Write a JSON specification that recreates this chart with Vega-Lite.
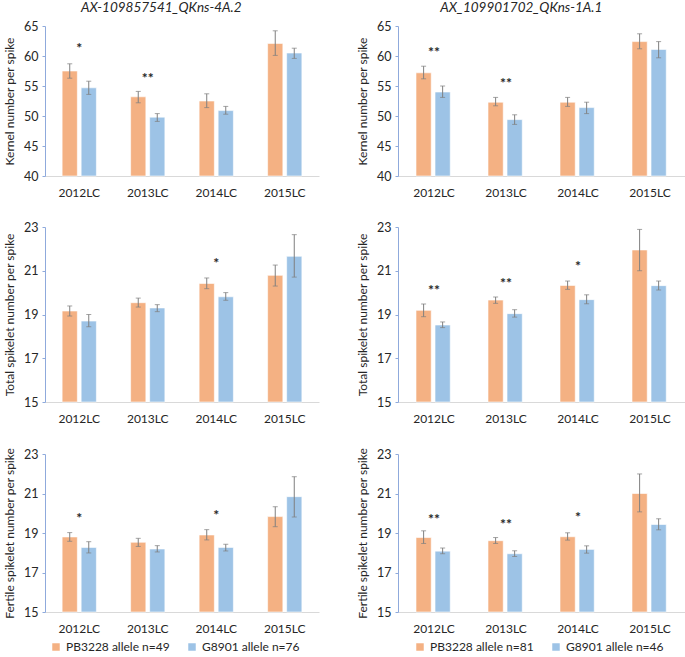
{
  "$schema": "https://vega.github.io/schema/vega-lite/v6.json",
  "padding": {"left": 3, "top": 0, "right": 0, "bottom": 0},
  "background": "white",
  "config": {
    "font": "Lato",
    "view": {"stroke": null},
    "axisY": {"domainColor": "#8FAADC", "tickColor": "#8FAADC", "tickSize": 3, "grid": false, "labelFontSize": 12.5, "labelColor": "#262626", "titleFontSize": 12, "titleFontWeight": "normal", "titleColor": "#262626", "labelPadding": 4, "titlePadding": 7},
    "axisX": {"domainColor": "#D9D9D9", "ticks": false, "labelAngle": 0, "labelFontSize": 12, "labelColor": "#262626", "labelPadding": 11},
    "title": {"fontSize": 13.5, "fontStyle": "italic", "fontWeight": "normal", "color": "#262626", "offset": 6, "frame": "bounds", "dx": 0},
    "legend": {"labelFontSize": 12, "labelColor": "#262626", "symbolType": "square", "symbolSize": 56, "symbolStrokeWidth": 0, "columnPadding": 16},
    "concat": {"spacing": 37}
  },
  "datasets": {
    "bars": [
      {"p": "K1", "yr": "2012LC", "g": 1, "a": "PB3228 allele n=49", "v": 57.5, "lo": 56.3, "hi": 58.7},
      {"p": "K1", "yr": "2012LC", "g": 2, "a": "G8901 allele n=76", "v": 54.7, "lo": 53.6, "hi": 55.8},
      {"p": "K1", "yr": "2013LC", "g": 1, "a": "PB3228 allele n=49", "v": 53.2, "lo": 52.2, "hi": 54.1},
      {"p": "K1", "yr": "2013LC", "g": 2, "a": "G8901 allele n=76", "v": 49.8, "lo": 49.1, "hi": 50.4},
      {"p": "K1", "yr": "2014LC", "g": 1, "a": "PB3228 allele n=49", "v": 52.5, "lo": 51.4, "hi": 53.7},
      {"p": "K1", "yr": "2014LC", "g": 2, "a": "G8901 allele n=76", "v": 50.9, "lo": 50.3, "hi": 51.6},
      {"p": "K1", "yr": "2015LC", "g": 1, "a": "PB3228 allele n=49", "v": 62.1, "lo": 60.1, "hi": 64.2},
      {"p": "K1", "yr": "2015LC", "g": 2, "a": "G8901 allele n=76", "v": 60.5, "lo": 59.6, "hi": 61.3},
      {"p": "T1", "yr": "2012LC", "g": 1, "a": "PB3228 allele n=49", "v": 19.16, "lo": 18.93, "hi": 19.39},
      {"p": "T1", "yr": "2012LC", "g": 2, "a": "G8901 allele n=76", "v": 18.7, "lo": 18.44, "hi": 19.0},
      {"p": "T1", "yr": "2013LC", "g": 1, "a": "PB3228 allele n=49", "v": 19.54, "lo": 19.34, "hi": 19.75},
      {"p": "T1", "yr": "2013LC", "g": 2, "a": "G8901 allele n=76", "v": 19.3, "lo": 19.13, "hi": 19.45},
      {"p": "T1", "yr": "2014LC", "g": 1, "a": "PB3228 allele n=49", "v": 20.42, "lo": 20.18, "hi": 20.67},
      {"p": "T1", "yr": "2014LC", "g": 2, "a": "G8901 allele n=76", "v": 19.81, "lo": 19.65, "hi": 20.0},
      {"p": "T1", "yr": "2015LC", "g": 1, "a": "PB3228 allele n=49", "v": 20.79, "lo": 20.3, "hi": 21.26},
      {"p": "T1", "yr": "2015LC", "g": 2, "a": "G8901 allele n=76", "v": 21.66, "lo": 20.71, "hi": 22.65},
      {"p": "F1", "yr": "2012LC", "g": 1, "a": "PB3228 allele n=49", "v": 18.8, "lo": 18.58, "hi": 19.02},
      {"p": "F1", "yr": "2012LC", "g": 2, "a": "G8901 allele n=76", "v": 18.27, "lo": 17.99, "hi": 18.56},
      {"p": "F1", "yr": "2013LC", "g": 1, "a": "PB3228 allele n=49", "v": 18.53, "lo": 18.32, "hi": 18.73},
      {"p": "F1", "yr": "2013LC", "g": 2, "a": "G8901 allele n=76", "v": 18.19, "lo": 18.04, "hi": 18.36},
      {"p": "F1", "yr": "2014LC", "g": 1, "a": "PB3228 allele n=49", "v": 18.9, "lo": 18.65, "hi": 19.17},
      {"p": "F1", "yr": "2014LC", "g": 2, "a": "G8901 allele n=76", "v": 18.27, "lo": 18.09, "hi": 18.43},
      {"p": "F1", "yr": "2015LC", "g": 1, "a": "PB3228 allele n=49", "v": 19.83, "lo": 19.32, "hi": 20.33},
      {"p": "F1", "yr": "2015LC", "g": 2, "a": "G8901 allele n=76", "v": 20.84, "lo": 19.81, "hi": 21.85},
      {"p": "K2", "yr": "2012LC", "g": 1, "a": "PB3228 allele n=81", "v": 57.2, "lo": 56.2, "hi": 58.3},
      {"p": "K2", "yr": "2012LC", "g": 2, "a": "G8901 allele n=46", "v": 54.0, "lo": 53.1, "hi": 55.0},
      {"p": "K2", "yr": "2013LC", "g": 1, "a": "PB3228 allele n=81", "v": 52.3, "lo": 51.7, "hi": 53.1},
      {"p": "K2", "yr": "2013LC", "g": 2, "a": "G8901 allele n=46", "v": 49.4, "lo": 48.6, "hi": 50.2},
      {"p": "K2", "yr": "2014LC", "g": 1, "a": "PB3228 allele n=81", "v": 52.3, "lo": 51.6, "hi": 53.1},
      {"p": "K2", "yr": "2014LC", "g": 2, "a": "G8901 allele n=46", "v": 51.4, "lo": 50.4, "hi": 52.3},
      {"p": "K2", "yr": "2015LC", "g": 1, "a": "PB3228 allele n=81", "v": 62.4, "lo": 61.2, "hi": 63.7},
      {"p": "K2", "yr": "2015LC", "g": 2, "a": "G8901 allele n=46", "v": 61.1, "lo": 59.7, "hi": 62.4},
      {"p": "T2", "yr": "2012LC", "g": 1, "a": "PB3228 allele n=81", "v": 19.19, "lo": 18.9, "hi": 19.48},
      {"p": "T2", "yr": "2012LC", "g": 2, "a": "G8901 allele n=46", "v": 18.52, "lo": 18.4, "hi": 18.66},
      {"p": "T2", "yr": "2013LC", "g": 1, "a": "PB3228 allele n=81", "v": 19.66, "lo": 19.51, "hi": 19.8},
      {"p": "T2", "yr": "2013LC", "g": 2, "a": "G8901 allele n=46", "v": 19.04, "lo": 18.88, "hi": 19.22},
      {"p": "T2", "yr": "2014LC", "g": 1, "a": "PB3228 allele n=81", "v": 20.33, "lo": 20.15, "hi": 20.53},
      {"p": "T2", "yr": "2014LC", "g": 2, "a": "G8901 allele n=46", "v": 19.68, "lo": 19.49, "hi": 19.9},
      {"p": "T2", "yr": "2015LC", "g": 1, "a": "PB3228 allele n=81", "v": 21.95, "lo": 21.0, "hi": 22.89},
      {"p": "T2", "yr": "2015LC", "g": 2, "a": "G8901 allele n=46", "v": 20.32, "lo": 20.12, "hi": 20.53},
      {"p": "F2", "yr": "2012LC", "g": 1, "a": "PB3228 allele n=81", "v": 18.77, "lo": 18.47, "hi": 19.11},
      {"p": "F2", "yr": "2012LC", "g": 2, "a": "G8901 allele n=46", "v": 18.08, "lo": 17.95, "hi": 18.24},
      {"p": "F2", "yr": "2013LC", "g": 1, "a": "PB3228 allele n=81", "v": 18.61, "lo": 18.47, "hi": 18.77},
      {"p": "F2", "yr": "2013LC", "g": 2, "a": "G8901 allele n=46", "v": 17.95, "lo": 17.81, "hi": 18.1},
      {"p": "F2", "yr": "2014LC", "g": 1, "a": "PB3228 allele n=81", "v": 18.81, "lo": 18.64, "hi": 19.01},
      {"p": "F2", "yr": "2014LC", "g": 2, "a": "G8901 allele n=46", "v": 18.17, "lo": 17.98, "hi": 18.35},
      {"p": "F2", "yr": "2015LC", "g": 1, "a": "PB3228 allele n=81", "v": 21.0, "lo": 20.07, "hi": 21.99},
      {"p": "F2", "yr": "2015LC", "g": 2, "a": "G8901 allele n=46", "v": 19.43, "lo": 19.16, "hi": 19.72}
    ],
    "stars": [
      {"p": "K1", "yr": "2012LC", "s": "*", "y": 61.6},
      {"p": "K1", "yr": "2013LC", "s": "**", "y": 56.7},
      {"p": "T1", "yr": "2014LC", "s": "*", "y": 21.45},
      {"p": "F1", "yr": "2012LC", "s": "*", "y": 19.85},
      {"p": "F1", "yr": "2014LC", "s": "*", "y": 20.0},
      {"p": "K2", "yr": "2012LC", "s": "**", "y": 61.0},
      {"p": "K2", "yr": "2013LC", "s": "**", "y": 55.8},
      {"p": "T2", "yr": "2012LC", "s": "**", "y": 20.2},
      {"p": "T2", "yr": "2013LC", "s": "**", "y": 20.55},
      {"p": "T2", "yr": "2014LC", "s": "*", "y": 21.3},
      {"p": "F2", "yr": "2012LC", "s": "**", "y": 19.8},
      {"p": "F2", "yr": "2013LC", "s": "**", "y": 19.55},
      {"p": "F2", "yr": "2014LC", "s": "*", "y": 19.92}
    ]
  },
  "resolve": {"scale": {"color": "independent"}, "legend": {"color": "independent"}},
  "hconcat": [
    {
      "spacing": 23,
      "vconcat": [
        {
          "width": 274, "height": 150,
          "title": {"text": "AX-109857541_QKns-4A.2"},
          "encoding": {
            "x": {"field": "yr", "type": "nominal", "title": null, "scale": {"paddingInner": 0.5, "paddingOuter": 0.25}},
            "y": {"type": "quantitative", "scale": {"domain": [40, 65], "zero": false, "nice": false}, "axis": {"values": [40, 45, 50, 55, 60, 65]}, "title": "Kernel number per spike"}
          },
          "layer": [
            {"data": {"name": "bars"}, "transform": [{"filter": "datum.p === 'K1'"}], "mark": {"type": "bar", "stroke": "white", "strokeWidth": 0.6},
             "encoding": {"xOffset": {"field": "g", "type": "nominal", "scale": {"paddingInner": 0.2}}, "y": {"field": "v"}, "y2": {"datum": 40},
               "color": {"field": "a", "type": "nominal", "title": null, "scale": {"domain": ["PB3228 allele n=49", "G8901 allele n=76"], "range": ["#F4B183", "#9DC3E6"]}, "legend": {"orient": "bottom", "direction": "horizontal", "padding": 5, "offset": 2}}}},
            {"data": {"name": "bars"}, "transform": [{"filter": "datum.p === 'K1'"}], "mark": {"type": "rule", "color": "#7F7F7F", "strokeWidth": 1},
             "encoding": {"xOffset": {"field": "g", "type": "nominal", "scale": {"paddingInner": 0.2}}, "y": {"field": "lo"}, "y2": {"field": "hi"}}},
            {"data": {"name": "bars"}, "transform": [{"filter": "datum.p === 'K1'"}], "mark": {"type": "tick", "color": "#7F7F7F", "thickness": 1, "size": 5},
             "encoding": {"xOffset": {"field": "g", "type": "nominal", "scale": {"paddingInner": 0.2}}, "y": {"field": "lo"}}},
            {"data": {"name": "bars"}, "transform": [{"filter": "datum.p === 'K1'"}], "mark": {"type": "tick", "color": "#7F7F7F", "thickness": 1, "size": 5},
             "encoding": {"xOffset": {"field": "g", "type": "nominal", "scale": {"paddingInner": 0.2}}, "y": {"field": "hi"}}},
            {"data": {"name": "stars"}, "transform": [{"filter": "datum.p === 'K1'"}], "mark": {"type": "text", "fontSize": 14, "fontWeight": "bold", "color": "#262626", "baseline": "middle", "dy": 3},
             "encoding": {"y": {"field": "y"}, "text": {"field": "s"}}}
          ]
        },
        {
          "width": 274, "height": 175,
          "encoding": {
            "x": {"field": "yr", "type": "nominal", "title": null, "scale": {"paddingInner": 0.5, "paddingOuter": 0.25}},
            "y": {"type": "quantitative", "scale": {"domain": [15, 23], "zero": false, "nice": false}, "axis": {"values": [15, 17, 19, 21, 23]}, "title": "Total spikelet number per spike"}
          },
          "layer": [
            {"data": {"name": "bars"}, "transform": [{"filter": "datum.p === 'T1'"}], "mark": {"type": "bar", "stroke": "white", "strokeWidth": 0.6},
             "encoding": {"xOffset": {"field": "g", "type": "nominal", "scale": {"paddingInner": 0.2}}, "y": {"field": "v"}, "y2": {"datum": 15},
               "color": {"field": "a", "type": "nominal", "title": null, "scale": {"domain": ["PB3228 allele n=49", "G8901 allele n=76"], "range": ["#F4B183", "#9DC3E6"]}, "legend": {"orient": "bottom", "direction": "horizontal", "padding": 5, "offset": 2}}}},
            {"data": {"name": "bars"}, "transform": [{"filter": "datum.p === 'T1'"}], "mark": {"type": "rule", "color": "#7F7F7F", "strokeWidth": 1},
             "encoding": {"xOffset": {"field": "g", "type": "nominal", "scale": {"paddingInner": 0.2}}, "y": {"field": "lo"}, "y2": {"field": "hi"}}},
            {"data": {"name": "bars"}, "transform": [{"filter": "datum.p === 'T1'"}], "mark": {"type": "tick", "color": "#7F7F7F", "thickness": 1, "size": 5},
             "encoding": {"xOffset": {"field": "g", "type": "nominal", "scale": {"paddingInner": 0.2}}, "y": {"field": "lo"}}},
            {"data": {"name": "bars"}, "transform": [{"filter": "datum.p === 'T1'"}], "mark": {"type": "tick", "color": "#7F7F7F", "thickness": 1, "size": 5},
             "encoding": {"xOffset": {"field": "g", "type": "nominal", "scale": {"paddingInner": 0.2}}, "y": {"field": "hi"}}},
            {"data": {"name": "stars"}, "transform": [{"filter": "datum.p === 'T1'"}], "mark": {"type": "text", "fontSize": 14, "fontWeight": "bold", "color": "#262626", "baseline": "middle", "dy": 3},
             "encoding": {"y": {"field": "y"}, "text": {"field": "s"}}}
          ]
        },
        {
          "width": 274, "height": 158,
          "encoding": {
            "x": {"field": "yr", "type": "nominal", "title": null, "scale": {"paddingInner": 0.5, "paddingOuter": 0.25}},
            "y": {"type": "quantitative", "scale": {"domain": [15, 23], "zero": false, "nice": false}, "axis": {"values": [15, 17, 19, 21, 23]}, "title": "Fertile spikelet number per spike"}
          },
          "layer": [
            {"data": {"name": "bars"}, "transform": [{"filter": "datum.p === 'F1'"}], "mark": {"type": "bar", "stroke": "white", "strokeWidth": 0.6},
             "encoding": {"xOffset": {"field": "g", "type": "nominal", "scale": {"paddingInner": 0.2}}, "y": {"field": "v"}, "y2": {"datum": 15},
               "color": {"field": "a", "type": "nominal", "title": null, "scale": {"domain": ["PB3228 allele n=49", "G8901 allele n=76"], "range": ["#F4B183", "#9DC3E6"]}, "legend": {"orient": "bottom", "direction": "horizontal", "padding": 5, "offset": 2}}}},
            {"data": {"name": "bars"}, "transform": [{"filter": "datum.p === 'F1'"}], "mark": {"type": "rule", "color": "#7F7F7F", "strokeWidth": 1},
             "encoding": {"xOffset": {"field": "g", "type": "nominal", "scale": {"paddingInner": 0.2}}, "y": {"field": "lo"}, "y2": {"field": "hi"}}},
            {"data": {"name": "bars"}, "transform": [{"filter": "datum.p === 'F1'"}], "mark": {"type": "tick", "color": "#7F7F7F", "thickness": 1, "size": 5},
             "encoding": {"xOffset": {"field": "g", "type": "nominal", "scale": {"paddingInner": 0.2}}, "y": {"field": "lo"}}},
            {"data": {"name": "bars"}, "transform": [{"filter": "datum.p === 'F1'"}], "mark": {"type": "tick", "color": "#7F7F7F", "thickness": 1, "size": 5},
             "encoding": {"xOffset": {"field": "g", "type": "nominal", "scale": {"paddingInner": 0.2}}, "y": {"field": "hi"}}},
            {"data": {"name": "stars"}, "transform": [{"filter": "datum.p === 'F1'"}], "mark": {"type": "text", "fontSize": 14, "fontWeight": "bold", "color": "#262626", "baseline": "middle", "dy": 3},
             "encoding": {"y": {"field": "y"}, "text": {"field": "s"}}}
          ]
        }
      ]
    },
    {
      "spacing": 23,
      "vconcat": [
        {
          "width": 288, "height": 150,
          "title": {"text": "AX_109901702_QKns-1A.1"},
          "encoding": {
            "x": {"field": "yr", "type": "nominal", "title": null, "scale": {"paddingInner": 0.5, "paddingOuter": 0.25}},
            "y": {"type": "quantitative", "scale": {"domain": [40, 65], "zero": false, "nice": false}, "axis": {"values": [40, 45, 50, 55, 60, 65]}, "title": "Kernel number per spike"}
          },
          "layer": [
            {"data": {"name": "bars"}, "transform": [{"filter": "datum.p === 'K2'"}], "mark": {"type": "bar", "stroke": "white", "strokeWidth": 0.6},
             "encoding": {"xOffset": {"field": "g", "type": "nominal", "scale": {"paddingInner": 0.2}}, "y": {"field": "v"}, "y2": {"datum": 40},
               "color": {"field": "a", "type": "nominal", "title": null, "scale": {"domain": ["PB3228 allele n=81", "G8901 allele n=46"], "range": ["#F4B183", "#9DC3E6"]}, "legend": {"orient": "bottom", "direction": "horizontal", "padding": 16, "offset": -9}}}},
            {"data": {"name": "bars"}, "transform": [{"filter": "datum.p === 'K2'"}], "mark": {"type": "rule", "color": "#7F7F7F", "strokeWidth": 1},
             "encoding": {"xOffset": {"field": "g", "type": "nominal", "scale": {"paddingInner": 0.2}}, "y": {"field": "lo"}, "y2": {"field": "hi"}}},
            {"data": {"name": "bars"}, "transform": [{"filter": "datum.p === 'K2'"}], "mark": {"type": "tick", "color": "#7F7F7F", "thickness": 1, "size": 5},
             "encoding": {"xOffset": {"field": "g", "type": "nominal", "scale": {"paddingInner": 0.2}}, "y": {"field": "lo"}}},
            {"data": {"name": "bars"}, "transform": [{"filter": "datum.p === 'K2'"}], "mark": {"type": "tick", "color": "#7F7F7F", "thickness": 1, "size": 5},
             "encoding": {"xOffset": {"field": "g", "type": "nominal", "scale": {"paddingInner": 0.2}}, "y": {"field": "hi"}}},
            {"data": {"name": "stars"}, "transform": [{"filter": "datum.p === 'K2'"}], "mark": {"type": "text", "fontSize": 14, "fontWeight": "bold", "color": "#262626", "baseline": "middle", "dy": 3},
             "encoding": {"y": {"field": "y"}, "text": {"field": "s"}}}
          ]
        },
        {
          "width": 288, "height": 175,
          "encoding": {
            "x": {"field": "yr", "type": "nominal", "title": null, "scale": {"paddingInner": 0.5, "paddingOuter": 0.25}},
            "y": {"type": "quantitative", "scale": {"domain": [15, 23], "zero": false, "nice": false}, "axis": {"values": [15, 17, 19, 21, 23]}, "title": "Total spikelet number per spike"}
          },
          "layer": [
            {"data": {"name": "bars"}, "transform": [{"filter": "datum.p === 'T2'"}], "mark": {"type": "bar", "stroke": "white", "strokeWidth": 0.6},
             "encoding": {"xOffset": {"field": "g", "type": "nominal", "scale": {"paddingInner": 0.2}}, "y": {"field": "v"}, "y2": {"datum": 15},
               "color": {"field": "a", "type": "nominal", "title": null, "scale": {"domain": ["PB3228 allele n=81", "G8901 allele n=46"], "range": ["#F4B183", "#9DC3E6"]}, "legend": {"orient": "bottom", "direction": "horizontal", "padding": 16, "offset": -9}}}},
            {"data": {"name": "bars"}, "transform": [{"filter": "datum.p === 'T2'"}], "mark": {"type": "rule", "color": "#7F7F7F", "strokeWidth": 1},
             "encoding": {"xOffset": {"field": "g", "type": "nominal", "scale": {"paddingInner": 0.2}}, "y": {"field": "lo"}, "y2": {"field": "hi"}}},
            {"data": {"name": "bars"}, "transform": [{"filter": "datum.p === 'T2'"}], "mark": {"type": "tick", "color": "#7F7F7F", "thickness": 1, "size": 5},
             "encoding": {"xOffset": {"field": "g", "type": "nominal", "scale": {"paddingInner": 0.2}}, "y": {"field": "lo"}}},
            {"data": {"name": "bars"}, "transform": [{"filter": "datum.p === 'T2'"}], "mark": {"type": "tick", "color": "#7F7F7F", "thickness": 1, "size": 5},
             "encoding": {"xOffset": {"field": "g", "type": "nominal", "scale": {"paddingInner": 0.2}}, "y": {"field": "hi"}}},
            {"data": {"name": "stars"}, "transform": [{"filter": "datum.p === 'T2'"}], "mark": {"type": "text", "fontSize": 14, "fontWeight": "bold", "color": "#262626", "baseline": "middle", "dy": 3},
             "encoding": {"y": {"field": "y"}, "text": {"field": "s"}}}
          ]
        },
        {
          "width": 288, "height": 158,
          "encoding": {
            "x": {"field": "yr", "type": "nominal", "title": null, "scale": {"paddingInner": 0.5, "paddingOuter": 0.25}},
            "y": {"type": "quantitative", "scale": {"domain": [15, 23], "zero": false, "nice": false}, "axis": {"values": [15, 17, 19, 21, 23]}, "title": "Fertile spikelet number per spike"}
          },
          "layer": [
            {"data": {"name": "bars"}, "transform": [{"filter": "datum.p === 'F2'"}], "mark": {"type": "bar", "stroke": "white", "strokeWidth": 0.6},
             "encoding": {"xOffset": {"field": "g", "type": "nominal", "scale": {"paddingInner": 0.2}}, "y": {"field": "v"}, "y2": {"datum": 15},
               "color": {"field": "a", "type": "nominal", "title": null, "scale": {"domain": ["PB3228 allele n=81", "G8901 allele n=46"], "range": ["#F4B183", "#9DC3E6"]}, "legend": {"orient": "bottom", "direction": "horizontal", "padding": 16, "offset": -9}}}},
            {"data": {"name": "bars"}, "transform": [{"filter": "datum.p === 'F2'"}], "mark": {"type": "rule", "color": "#7F7F7F", "strokeWidth": 1},
             "encoding": {"xOffset": {"field": "g", "type": "nominal", "scale": {"paddingInner": 0.2}}, "y": {"field": "lo"}, "y2": {"field": "hi"}}},
            {"data": {"name": "bars"}, "transform": [{"filter": "datum.p === 'F2'"}], "mark": {"type": "tick", "color": "#7F7F7F", "thickness": 1, "size": 5},
             "encoding": {"xOffset": {"field": "g", "type": "nominal", "scale": {"paddingInner": 0.2}}, "y": {"field": "lo"}}},
            {"data": {"name": "bars"}, "transform": [{"filter": "datum.p === 'F2'"}], "mark": {"type": "tick", "color": "#7F7F7F", "thickness": 1, "size": 5},
             "encoding": {"xOffset": {"field": "g", "type": "nominal", "scale": {"paddingInner": 0.2}}, "y": {"field": "hi"}}},
            {"data": {"name": "stars"}, "transform": [{"filter": "datum.p === 'F2'"}], "mark": {"type": "text", "fontSize": 14, "fontWeight": "bold", "color": "#262626", "baseline": "middle", "dy": 3},
             "encoding": {"y": {"field": "y"}, "text": {"field": "s"}}}
          ]
        }
      ]
    }
  ]
}
